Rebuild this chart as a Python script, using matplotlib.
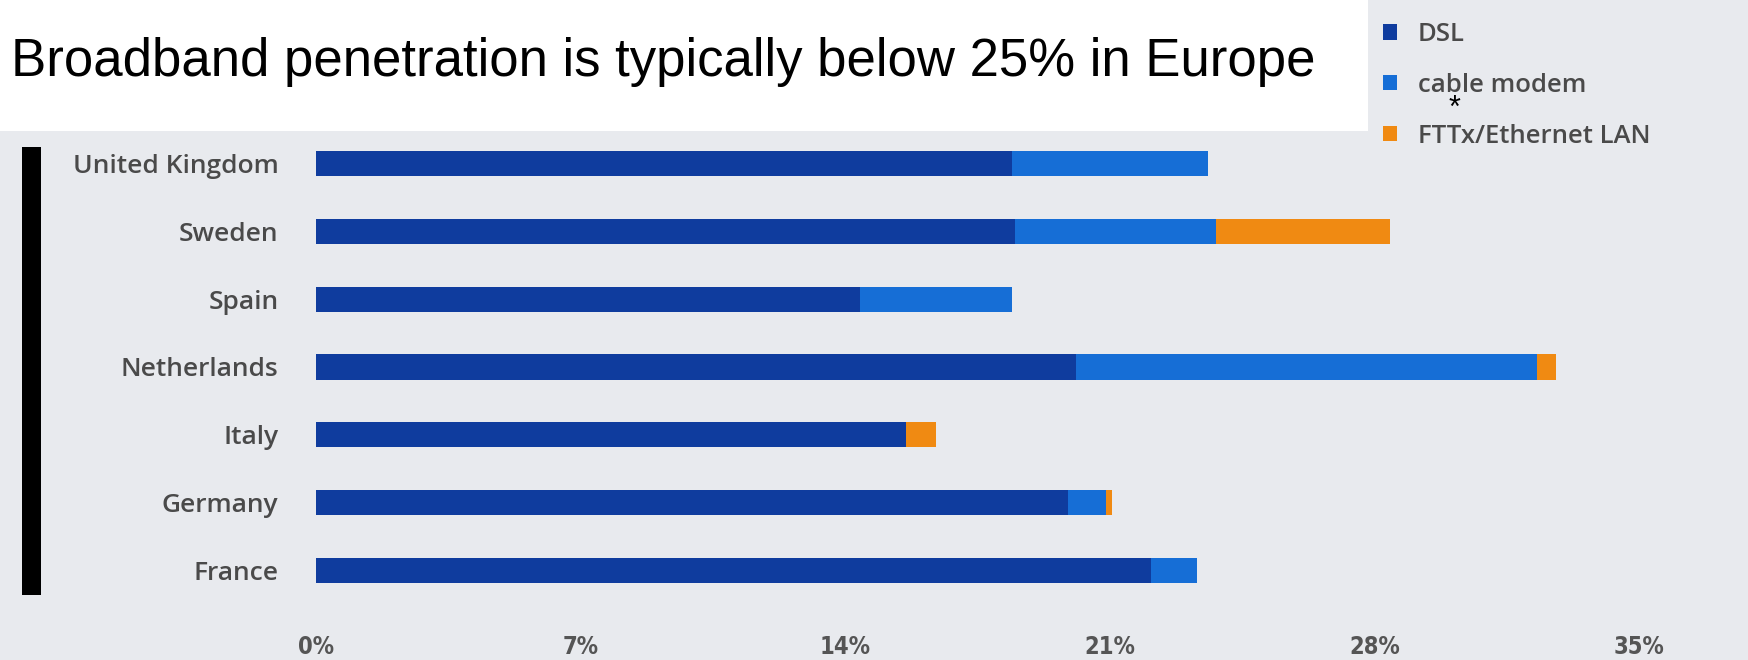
import matplotlib
matplotlib.use("Agg")
import matplotlib.pyplot as plt
from matplotlib.patches import Rectangle
import numpy as np

# penetration (% of households), listed bottom to top
countries = ["France", "Germany", "Italy", "Netherlands", "Spain", "Sweden", "United Kingdom"]
dsl = [22.1, 19.9, 15.6, 20.1, 14.4, 18.5, 18.4]
cable = [1.2, 1.0, 0.0, 12.2, 4.0, 5.3, 5.2]
fttx = [0.0, 0.15, 0.8, 0.5, 0.0, 4.6, 0.0]
xticks = [0, 7, 14, 21, 28, 35]

series_names = ["DSL", "cable modem", "FTTx/Ethernet LAN"]
colors = ["#0f3c9e", "#166ed6", "#f08a12"]

W, H = 1749, 660
fig = plt.figure(figsize=(W / 100, H / 100), dpi=100, facecolor="#e8eaee")

# white banner behind the headline
fig.patches.append(Rectangle((0, 1 - 131 / H), 1368 / W, 131 / H,
                             transform=fig.transFigure, facecolor="white",
                             edgecolor="none", zorder=0))

ax = fig.add_axes([316 / W, 56 / H, 1323 / W, 474 / H])
ax.set_facecolor("none")

y = np.arange(len(countries))
dsl_a, cable_a, fttx_a = np.array(dsl), np.array(cable), np.array(fttx)
b1 = ax.barh(y, dsl_a, height=0.37, color=colors[0], label=series_names[0])
b2 = ax.barh(y, cable_a, left=dsl_a, height=0.37, color=colors[1], label=series_names[1])
b3 = ax.barh(y, fttx_a, left=dsl_a + cable_a, height=0.37, color=colors[2], label=series_names[2])

ax.set_xlim(0, 35)
ax.set_ylim(-0.5, len(countries) - 0.5)
for s in ax.spines.values():
    s.set_visible(False)

ax.set_yticks(y)
ax.set_yticklabels(countries, family=["Open Sans", "DejaVu Sans"], fontsize=19,
                   color="#4a4a4a", fontweight="semibold")
ax.set_xticks(xticks)
ax.set_xticklabels([f"{t}%" for t in xticks], family=["DejaVu Sans"],
                   fontstretch="condensed", fontsize=17, fontweight="bold",
                   color="#555555")
ax.tick_params(axis="y", length=0, pad=27)
ax.tick_params(axis="x", length=0, pad=22)

# black marker bar on the left edge
fig.patches.append(Rectangle((22 / W, 1 - 595 / H), 19 / W, 448 / H,
                             transform=fig.transFigure, facecolor="black",
                             edgecolor="none"))

fig.text(11 / W, 1 - 62 / H, "Broadband penetration is typically below 25% in Europe",
         family=["Liberation Sans", "DejaVu Sans"], fontsize=38, color="black",
         va="center", ha="left")

leg = fig.legend(handles=[b1, b2, b3], loc="upper left",
                 bbox_to_anchor=(1360 / W, 1 + 1 / H), frameon=False,
                 handlelength=0.55, handleheight=0.55, handletextpad=0.8,
                 labelspacing=1.0, prop={"family": ["Open Sans", "DejaVu Sans"],
                                         "size": 18.5, "weight": "semibold"})
for t in leg.get_texts():
    t.set_color("#4a4a4a")

fig.text(1455 / W, 1 - 109 / H, "*", family=["Liberation Sans", "DejaVu Sans"],
         fontsize=22, color="black", ha="center", va="center")

fig.savefig("out.png", dpi=100, facecolor=fig.get_facecolor())
